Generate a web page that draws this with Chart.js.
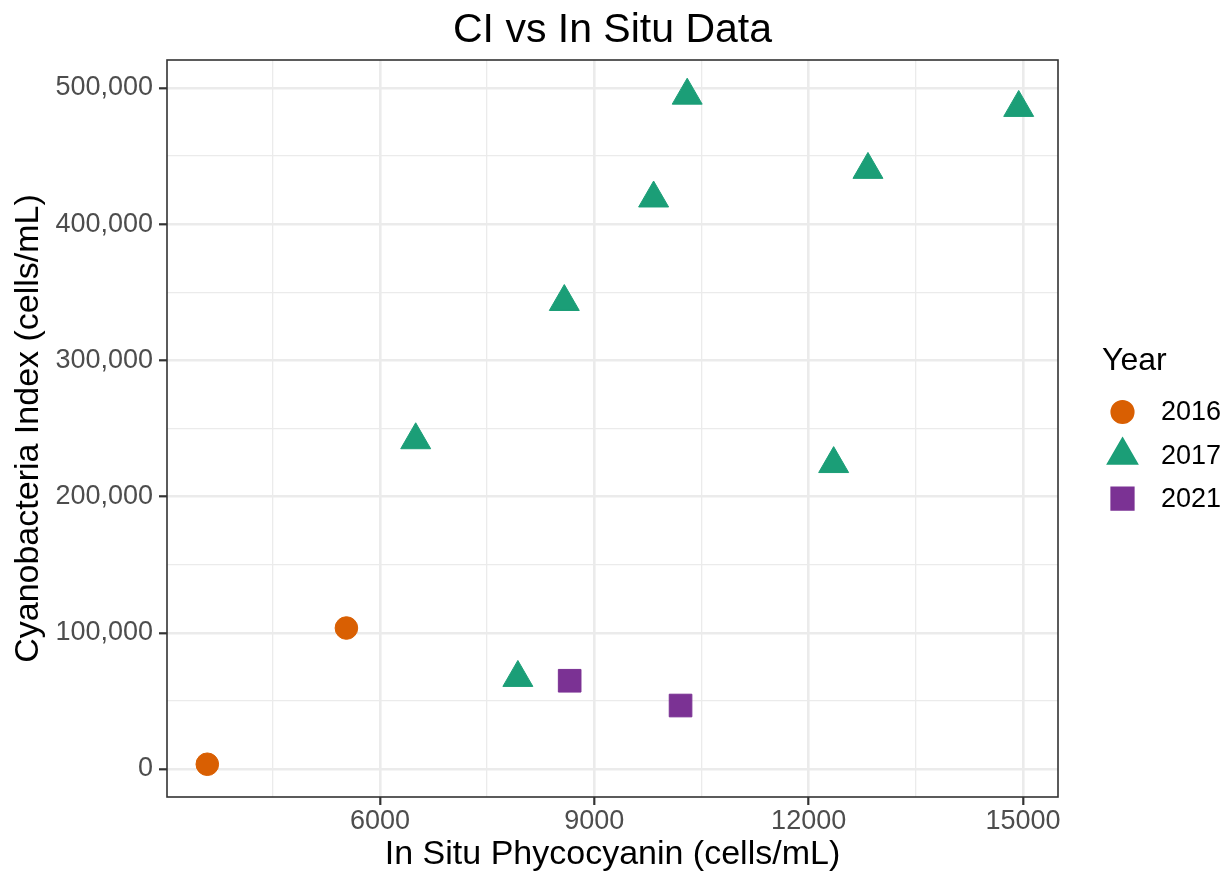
<!DOCTYPE html>
<html>
<head>
<meta charset="utf-8">
<script src="https://cdn.jsdelivr.net/npm/chart.js@4/dist/chart.umd.min.js"></script>
<style>
  html, body { margin: 0; padding: 0; background: #fff; }
  #wrap { width: 1230px; height: 875px; position: relative; }
</style>
</head>
<body>
<div id="wrap"><canvas id="ciChart" width="1230" height="875"></canvas></div>
<script>
// values
const years = ["2016", "2017", "2021"];
const insitu2016 = [3583, 5530];
const ci2016 = [3500, 103500];
const insitu2017 = [6500, 7930, 8580, 9830, 10300, 12350, 12830, 14940];
const ci2017 = [241500, 67000, 343000, 419000, 494500, 224000, 440000, 485500];
const insitu2021 = [8655, 10207];
const ci2021 = [64800, 46600];

const xTicks = [4500, 6000, 7500, 9000, 10500, 12000, 13500, 15000];
const xLabels = [6000, 9000, 12000, 15000];
const yTicks = [0, 50000, 100000, 150000, 200000, 250000, 300000, 350000, 400000, 450000, 500000];
const yLabels = [0, 100000, 200000, 300000, 400000, 500000];

const colors = ["#D95F02", "#1B9E77", "#7B3294"];
const shapes = ["circle", "triangle", "rect"];
const sizes = [11.3, 17.3, 16];

const FONT = "'Liberation Sans', Arial, Helvetica, sans-serif";

const pairUp = (xs, ys) => xs.map((x, i) => ({ x: x, y: ys[i] }));
const allData = [pairUp(insitu2016, ci2016), pairUp(insitu2017, ci2017), pairUp(insitu2021, ci2021)];

const datasets = years.map((yr, i) => ({
  label: yr,
  data: allData[i],
  pointStyle: shapes[i],
  pointRadius: sizes[i],
  pointHoverRadius: sizes[i],
  backgroundColor: colors[i],
  borderColor: colors[i],
  borderWidth: 1,
}));

// ggplot-ish extras: title, panel border, legend
const ggExtras = {
  id: "ggExtras",
  afterDraw(chart) {
    const { ctx, chartArea } = chart;
    const h = Chart.helpers;
    ctx.save();
    // panel border
    ctx.strokeStyle = "#333333";
    ctx.lineWidth = 1.6;
    ctx.strokeRect(chartArea.left, chartArea.top, chartArea.right - chartArea.left, chartArea.bottom - chartArea.top);

    // title
    ctx.fillStyle = "#000";
    ctx.font = "41px " + FONT;
    ctx.textAlign = "center";
    ctx.textBaseline = "alphabetic";
    ctx.fillText("CI vs In Situ Data", (chartArea.left + chartArea.right) / 2, 42);

    // legend
    ctx.textAlign = "left";
    ctx.font = "32px " + FONT;
    ctx.fillText("Year", 1102, 370);
    ctx.font = "27px " + FONT;
    chart.data.datasets.forEach((ds, i) => {
      const cy = 412 + i * 43.3;
      ctx.fillStyle = ds.backgroundColor;
      ctx.strokeStyle = ds.borderColor;
      h.drawPoint(ctx, { pointStyle: ds.pointStyle, radius: ds.pointRadius, rotation: 0, borderWidth: 1 }, 1122.5, cy);
      ctx.fillStyle = "#000";
      ctx.textBaseline = "middle";
      ctx.fillText(ds.label, 1161, cy + 1);
    });
    ctx.restore();
  },
};

const isMajor = (list, v) => list.includes(v);

new Chart(document.getElementById("ciChart"), {
  type: "scatter",
  data: { datasets: datasets },
  options: {
    responsive: false,
    animation: false,
    layout: { padding: { top: 60, right: 172, bottom: 0, left: 0 } },
    plugins: {
      legend: { display: false },
      title: { display: false },
      tooltip: { enabled: false },
    },
    scales: {
      x: {
        type: "linear",
        min: 3019,
        max: 15490,
        afterBuildTicks: (scale) => { scale.ticks = xTicks.map((v) => ({ value: v })); },
        afterFit: (scale) => { scale.height = 78; },
        border: { display: false },
        grid: {
          color: "#EBEBEB",
          lineWidth: (c) => (c.tick && isMajor(xLabels, c.tick.value) ? 2.6 : 1.3),
          tickColor: (c) => (c.tick && isMajor(xLabels, c.tick.value) ? "#333333" : "rgba(0,0,0,0)"),
          tickWidth: 2.2,
          tickLength: 8,
          drawTicks: true,
        },
        ticks: {
          autoSkip: false,
          maxRotation: 0,
          padding: 0,
          color: "#4D4D4D",
          font: { family: FONT, size: 27 },
          callback: (v) => (isMajor(xLabels, v) ? String(v) : ""),
        },
        title: {
          display: true,
          text: "In Situ Phycocyanin (cells/mL)",
          color: "#000",
          font: { family: FONT, size: 34 },
          padding: { top: 0, bottom: 0 },
        },
      },
      y: {
        type: "linear",
        min: -20558,
        max: 520558,
        afterBuildTicks: (scale) => { scale.ticks = yTicks.map((v) => ({ value: v })); },
        afterFit: (scale) => { scale.width = 167; },
        border: { display: false },
        grid: {
          color: "#EBEBEB",
          lineWidth: (c) => (c.tick && isMajor(yLabels, c.tick.value) ? 2.6 : 1.3),
          tickColor: (c) => (c.tick && isMajor(yLabels, c.tick.value) ? "#333333" : "rgba(0,0,0,0)"),
          tickWidth: 2.2,
          tickLength: 8,
          drawTicks: true,
        },
        ticks: {
          autoSkip: false,
          padding: 6,
          color: "#4D4D4D",
          font: { family: FONT, size: 27 },
          callback: (v) => (isMajor(yLabels, v) ? v.toLocaleString("en-US") : ""),
        },
        title: {
          display: true,
          text: "Cyanobacteria Index (cells/mL)",
          color: "#000",
          font: { family: FONT, size: 34 },
          padding: { top: 8, bottom: 0 },
        },
      },
    },
  },
  plugins: [ggExtras],
});
</script>
</body>
</html>
